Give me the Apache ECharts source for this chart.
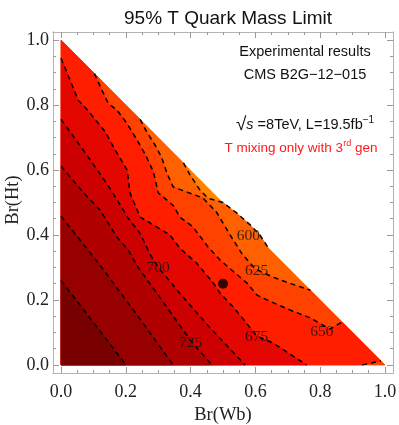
<!DOCTYPE html>
<html><head><meta charset="utf-8">
<script src="https://cdn.jsdelivr.net/npm/echarts@6/dist/echarts.min.js"></script>
<style>html,body{margin:0;padding:0;background:#fff}#c{width:399px;height:425px}</style>
</head><body><div id="c"></div>
<script>
// ---- data ----
const levels = [600, 625, 650, 675, 700, 725, 750, 775];
const bandColors = ['#ff8a00','#ff6000','#ff4200','#ff1e00','#e40600','#cc0000','#b00000','#960000','#780000'];
const triangle = [[0,0],[0,1],[1,0]];
const c600 = [[0.378,0.622],[0.398,0.585],[0.429,0.538],[0.454,0.513],[0.500,0.500],[0.542,0.468],[0.583,0.432],[0.614,0.400],[0.640,0.360]];
const c625 = [[0.244,0.756],[0.264,0.718],[0.290,0.677],[0.310,0.640],[0.327,0.590],[0.346,0.548],[0.389,0.532],[0.438,0.514],[0.480,0.470],[0.522,0.400],[0.560,0.340],[0.600,0.295],[0.655,0.270],[0.707,0.251],[0.770,0.230]];
const c650 = [[0.103,0.897],[0.126,0.846],[0.146,0.805],[0.172,0.785],[0.203,0.744],[0.230,0.700],[0.259,0.650],[0.285,0.595],[0.300,0.530],[0.347,0.490],[0.367,0.455],[0.407,0.425],[0.454,0.363],[0.491,0.323],[0.537,0.283],[0.574,0.252],[0.605,0.215],[0.636,0.200],[0.707,0.169],[0.769,0.145],[0.830,0.110],[0.868,0.132]];
const c650b = [[0.930,0.000],[0.988,0.012]];
const c675 = [[0.000,0.944],[0.053,0.815],[0.084,0.782],[0.136,0.718],[0.165,0.665],[0.204,0.600],[0.213,0.529],[0.244,0.455],[0.270,0.440],[0.336,0.400],[0.367,0.359],[0.419,0.313],[0.470,0.252],[0.491,0.221],[0.531,0.179],[0.573,0.128],[0.604,0.089],[0.655,0.067],[0.758,0.000]];
const c700 = [[0.000,0.756],[0.068,0.662],[0.140,0.560],[0.173,0.508],[0.207,0.452],[0.244,0.405],[0.275,0.340],[0.300,0.300],[0.367,0.220],[0.450,0.125],[0.568,0.000]];
const c725 = [[0.000,0.612],[0.065,0.535],[0.120,0.477],[0.172,0.394],[0.207,0.354],[0.238,0.300],[0.300,0.215],[0.350,0.145],[0.400,0.075],[0.465,0.000]];
const c750 = [[0.000,0.458],[0.120,0.307],[0.230,0.160],[0.346,0.000]];
const c775 = [[0.000,0.260],[0.200,0.000]];
const labelTexts = ['600','625','650','675','700','725'];
const labelPos = [[0.578,0.397],[0.604,0.290],[0.805,0.102],[0.604,0.087],[0.300,0.300],[0.400,0.068]];
const benchmark = [[0.5,0.25]];
const majorTicks = [0, 0.2, 0.4, 0.6, 0.8, 1.0];
const minorTicks = [0.05,0.1,0.15,0.25,0.3,0.35,0.45,0.5,0.55,0.65,0.7,0.75,0.85,0.9,0.95];
const xTitle = 'Br(Wb)';
const yTitle = 'Br(Ht)';

// ---- build regions (mass above each level) ----
const corner = triangle[0], apex = triangle[1], right = triangle[2];
const regions = [
  triangle,
  [corner, apex, ...c600, right],
  [corner, apex, ...c625, right],
  [corner, apex, ...c650, ...c650b.slice().reverse()],
  [corner, ...c675],
  [corner, ...c700],
  [corner, ...c725],
  [corner, ...c750],
  [corner, ...c775]
];
const contours = [c600, c625, c650, c650b, c675, c700, c725, c750, c775];

const chart = echarts.init(document.getElementById('c'));
const serif = "'Liberation Serif','DejaVu Serif',serif";
const sans = "'Liberation Sans','DejaVu Sans',sans-serif";
const frameColor = '#b4b4b4';
const tickColor = '#999';

function mkAxis(kind, pos, ticks, len, labels) {
  return {
    type: 'value', min: -0.025, max: 1.025, position: pos, gridIndex: 0,
    axisLine: { show: true, onZero: false, lineStyle: { color: frameColor, width: 1 } },
    axisTick: { show: true, inside: true, length: len, customValues: ticks, lineStyle: { color: tickColor, width: 1 } },
    axisLabel: labels ? { show: true, customValues: majorTicks, formatter: v => v.toFixed(1), fontFamily: serif, fontSize: 18, color: '#222', margin: kind === 'x' ? 10 : 4 } : { show: false },
    splitLine: { show: false }
  };
}

const series = [];
series.push({
  type: 'custom', coordinateSystem: 'cartesian2d', silent: true, z: 1,
  data: regions.map((r, i) => [r[0][0], r[0][1], i]),
  renderItem: (params, api) => {
    const i = params.dataIndex;
    const pts = regions[i].map(p => api.coord(p));
    let fill = bandColors[i];
    if (i === 0) {
      const a = api.coord(c600[0]), b = api.coord(c600[c600.length - 1]);
      fill = new echarts.graphic.LinearGradient(a[0], a[1], b[0], b[1], [
        { offset: 0, color: '#ff7a00' }, { offset: 1, color: '#ff9c00' }], true);
    }
    return { type: 'polygon', shape: { points: pts }, style: { fill: fill, stroke: i === 0 ? 'none' : bandColors[i], lineWidth: 0.6 } };
  }
});
contours.forEach(c => series.push({
  type: 'line', data: c, showSymbol: false, symbol: 'none', silent: true, z: 3,
  lineStyle: { color: '#000', width: 1.5, type: [5, 4] }
}));
series.push({
  type: 'scatter', symbolSize: 1, z: 4, silent: true,
  itemStyle: { color: 'rgba(0,0,0,0)' },
  data: labelPos.map((p, i) => ({ value: p, name: labelTexts[i] })),
  label: { show: true, position: 'inside', formatter: p => p.name, fontFamily: serif, fontSize: 15.5, color: '#111' }
});
series.push({
  type: 'scatter', data: benchmark, symbolSize: 10, z: 5, silent: true,
  itemStyle: { color: '#000' }
});

chart.setOption({
  animation: false,
  grid: { left: 53, right: 6, top: 32, bottom: 52, containLabel: false, outerBoundsMode: 'none' },
  xAxis: [
    mkAxis('x', 'bottom', majorTicks, 6, true),
    mkAxis('x', 'bottom', minorTicks, 3, false),
    mkAxis('x', 'top', majorTicks, 6, false),
    mkAxis('x', 'top', minorTicks, 3, false)
  ],
  yAxis: [
    mkAxis('y', 'left', majorTicks, 6, true),
    mkAxis('y', 'left', minorTicks, 3, false),
    mkAxis('y', 'right', majorTicks, 6, false),
    mkAxis('y', 'right', minorTicks, 3, false)
  ],
  title: {
    text: '95% T Quark Mass Limit', left: 223, top: 4, textAlign: 'center',
    textStyle: { fontFamily: sans, fontSize: 19, fontWeight: 'normal', color: '#111' }
  },
  graphic: [
    { type: 'text', x: 223, y: 415, style: { text: xTitle, font: "18.5px 'Liberation Serif'", fill: '#222', align: 'center', verticalAlign: 'middle' } },
    { type: 'text', x: 13, y: 200, rotation: Math.PI / 2, style: { text: yTitle, font: "18.5px 'Liberation Serif'", fill: '#222', align: 'center', verticalAlign: 'middle' } },
    { type: 'text', x: 305, y: 52, style: { text: 'Experimental results', font: "14.5px 'Liberation Sans'", fill: '#111', align: 'center', verticalAlign: 'middle' } },
    { type: 'text', x: 305, y: 75, style: { text: 'CMS B2G\u221212\u2212015', font: "14.5px 'Liberation Sans'", fill: '#111', align: 'center', verticalAlign: 'middle' } },
    { type: 'text', x: 305, y: 125, style: {
      text: '{r|\u221A}{s|s}{n| =8TeV, L=19.5fb}{p|\u22121}', align: 'center', verticalAlign: 'middle',
      rich: {
        r: { fontFamily: sans, fontSize: 19, fill: '#111' },
        s: { fontFamily: sans, fontSize: 14.5, fontStyle: 'italic', fill: '#111' },
        n: { fontFamily: sans, fontSize: 14.5, fill: '#111' },
        p: { fontFamily: sans, fontSize: 10, fill: '#111', padding: [0, 0, 9, 0] }
      } } },
    { type: 'text', x: 301, y: 148, style: {
      text: '{n|T mixing only with 3}{p|rd}{n| gen}', align: 'center', verticalAlign: 'middle',
      rich: {
        n: { fontFamily: sans, fontSize: 13.5, fill: '#ff1a1a' },
        p: { fontFamily: sans, fontSize: 9, fill: '#ff1a1a', padding: [0, 0, 8, 0] }
      } } }
  ],
  series: series
});
</script></body></html>
